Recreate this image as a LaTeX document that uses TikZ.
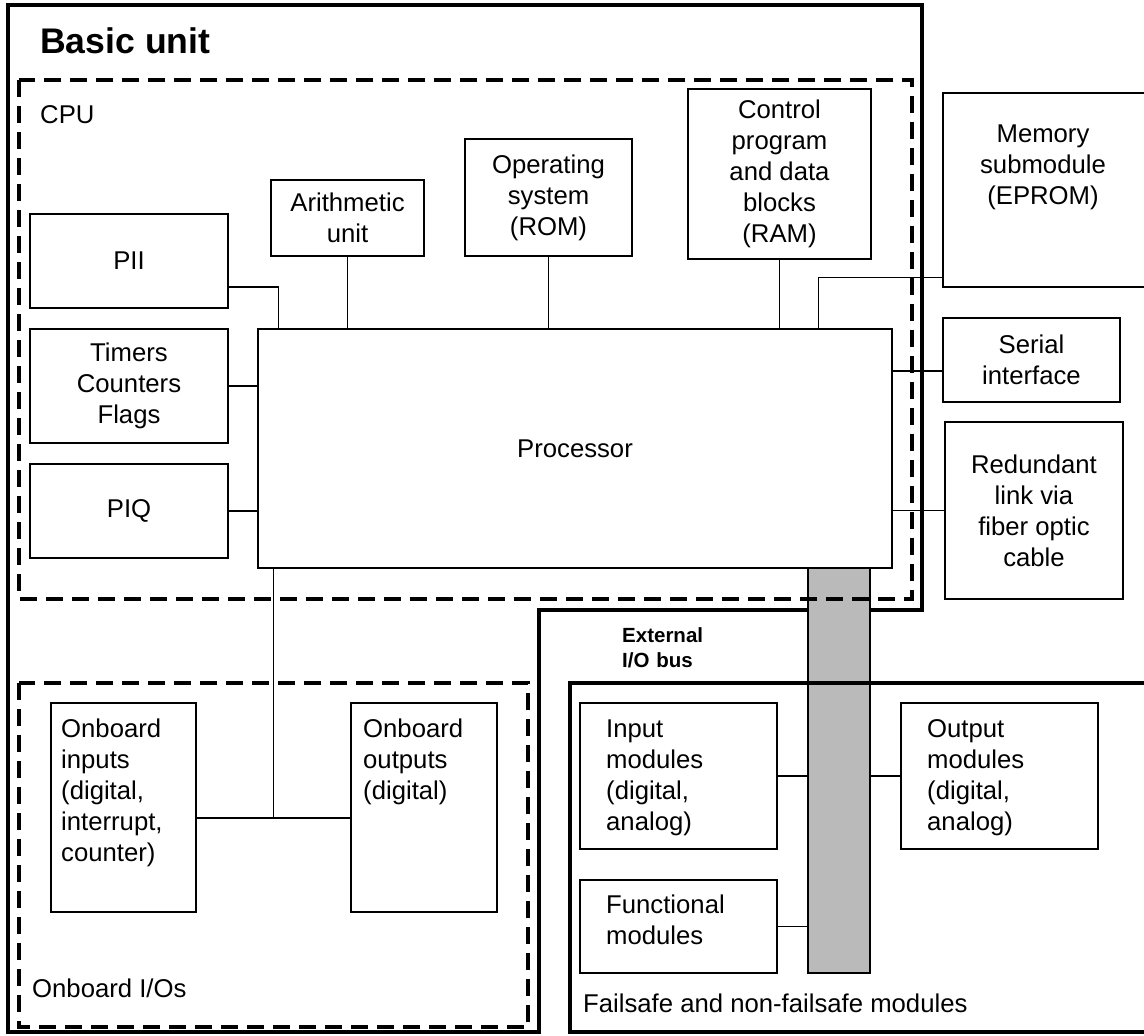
\documentclass[tikz,border=0pt]{standalone}
\usepackage{fontspec}
\setmainfont{Liberation Sans}
\begin{document}
\begin{tikzpicture}[x=1pt,y=-1pt,
  every node/.style={font=\fontsize{25.7}{31}\selectfont, inner sep=0pt},
  box/.style={draw, line width=1.3pt, align=center},
  conn/.style={line width=1.3pt},
  frame/.style={line width=4pt},
  dashframe/.style={line width=4.5pt, dash pattern=on 17pt off 9pt},
  lbl/.style={anchor=base west},
  toplbl/.style={anchor=base west, text width=#1, align=left},
  title/.style={anchor=base west, font=\fontsize{35.6}{40}\selectfont\bfseries},
  buslbl/.style={anchor=base west, font=\fontsize{20.5}{25}\selectfont\bfseries,
                 text width=110pt, align=left},
  busbar/.style={draw, line width=1.2pt, fill=black!27},
]
\useasboundingbox (0,0) rectangle (1144,1036);
\clip (0,0) rectangle (1144,1036);

% Basic unit outline
\draw[frame] (8,5) -- (922,5) -- (922,610) -- (539,610) -- (539,1032) -- (8,1032) -- cycle;
\node[title] (basic) at (40,53) {Basic unit};

% CPU components
\node[lbl] (cpu) at (40,123) {CPU};
\node[box, minimum width=198pt, minimum height=94pt]  (pii)   at (129,261)   {PII};
\node[box, minimum width=198pt, minimum height=114pt] (tcf)   at (129,386)   {Timers\\Counters\\Flags};
\node[box, minimum width=198pt, minimum height=94pt]  (piq)   at (129,511)   {PIQ};
\node[box, minimum width=634pt, minimum height=239pt] (proc)  at (575,448.5) {Processor};
\node[box, minimum width=153pt, minimum height=76pt]  (arith) at (347.5,218) {Arithmetic\\unit};
\node[box, minimum width=167pt, minimum height=117pt] (os)    at (548.5,197.5) {Operating\\system\\(ROM)};
\node[box, minimum width=183pt, minimum height=170pt] (ctrl)  at (779.5,174) {Control\\program\\and data\\blocks\\(RAM)};

% Peripheral units on the right
\node[box, minimum width=207pt, minimum height=194pt] (mem) at (1046.5,190) {};
\node[anchor=base, text width=200pt, align=center] (memt) at (1043,142) {Memory\\submodule\\(EPROM)};
\node[box, minimum width=177pt, minimum height=84pt]  (ser) at (1031.5,360) {Serial\\interface};
\node[box, minimum width=178pt, minimum height=177pt] (red) at (1034,510.5) {Redundant\\link via\\fiber optic\\cable};

% Connections to the processor
\draw[conn] ([yshift=-26pt]pii.east) -| ([xshift=21pt]proc.north west);
\draw[conn] (tcf.east) -- (tcf.east -| proc.west);
\draw[conn] (piq.east) -- (piq.east -| proc.west);
\draw[conn] (arith.south) -- (arith.south |- proc.north);
\draw[conn] (os.south) -- (os.south |- proc.north);
\draw[conn] (ctrl.south) -- (ctrl.south |- proc.north);
\draw[conn] ([yshift=10pt]mem.south west) -| ([xshift=-74pt]proc.north east);
\coordinate (serc) at ([yshift=-11pt]ser.west);
\draw[conn] (serc) -- (serc -| proc.east);
\draw[conn] (red.west) -- (red.west -| proc.east);

% Onboard I/Os
\node[box, minimum width=145pt, minimum height=209pt] (obin)  at (123.5,807.5) {};
\node[toplbl=135pt] (obint) at (61,737) {Onboard\\inputs\\(digital,\\interrupt,\\counter)};
\node[box, minimum width=146pt, minimum height=209pt] (obout) at (424,807.5) {};
\node[toplbl=130pt] (oboutt) at (363,737) {Onboard\\outputs\\(digital)};
\coordinate (procb) at ([xshift=16pt]proc.south west);
\coordinate (obinc) at ([yshift=-10.5pt]obin.east);
\draw[conn] (procb) -- (procb |- obinc);
\draw[conn] (obinc) -- (obinc -| obout.west);
\node[lbl] (oblbl) at (32,997) {Onboard I/Os};

% External I/O bus and modules
\node[busbar, minimum width=62pt, minimum height=405pt] (bus) at (839,770.5) {};
\node[buslbl] (buslabel) at (622,642) {External\\I/O bus};
\node[box, minimum width=197pt, minimum height=146pt] (inmod)  at (678.5,776) {};
\node[toplbl=165pt] (inmodt) at (606,737) {Input\\modules\\(digital,\\analog)};
\node[box, minimum width=197pt, minimum height=146pt] (outmod) at (999.5,776) {};
\node[toplbl=165pt] (outmodt) at (927,737) {Output\\modules\\(digital,\\analog)};
\node[box, minimum width=197pt, minimum height=93pt]  (func)   at (678.5,926.5) {};
\node[toplbl=165pt] (funct) at (606,913) {Functional\\modules};
\draw[conn] (inmod.east) -- (inmod.east -| bus.west);
\draw[conn] (outmod.west) -- (outmod.west -| bus.east);
\draw[conn] (func.east) -- (func.east -| bus.west);

% Dashed group outlines
\draw[dashframe] (19,80) rectangle (912,599);
\draw[dashframe] (19,683) rectangle (528,1027);

% Failsafe and non-failsafe modules outline
\draw[frame] (1160,683) -- (570,683) -- (570,1032) -- (1160,1032);
\node[lbl] (fslbl) at (583,1012) {Failsafe and non-failsafe modules};
\end{tikzpicture}
\end{document}
